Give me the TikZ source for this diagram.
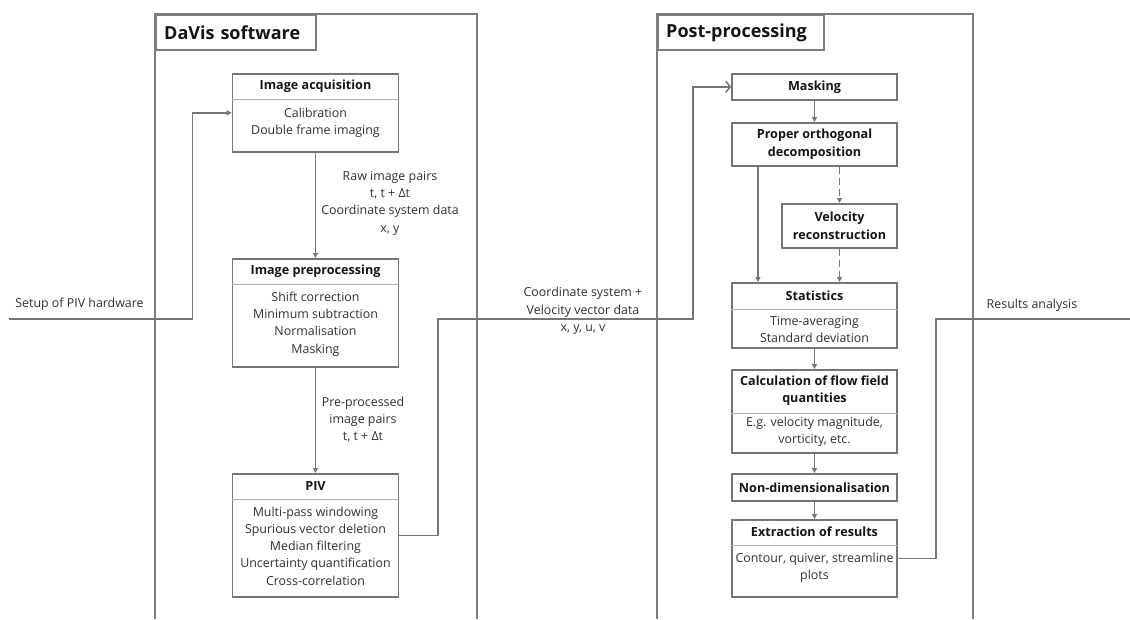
\documentclass[tikz,border=0pt]{standalone}
\usepackage{fontspec}
\setmainfont{Open Sans}
\usepackage{tikz}
\usetikzlibrary{positioning,calc,arrows.meta}
\definecolor{frameGray}{RGB}{125,125,125}
\definecolor{lineGray}{RGB}{118,118,118}
\definecolor{splitGray}{RGB}{175,175,175}
\definecolor{headText}{RGB}{20,20,20}
\definecolor{bodyText}{RGB}{48,48,48}
\tikzset{
    frame/.style={draw=frameGray, line width=2.4pt},
    titlebox/.style={
        frame,
        anchor=north west,
        minimum height=35pt,
        inner xsep=8pt,
        inner ysep=0pt,
        align=left,
        font=\fontsize{18}{20}\selectfont\bfseries,
        text=headText
    },
    stepbox/.style={
        draw=lineGray,
        line width=1.6pt,
        anchor=north,
        inner sep=0pt,
        minimum width=166pt,
        align=center
    },
    headfont/.style={font=\fontsize{12.6}{17.3}\selectfont\bfseries, text=headText},
    bodyfont/.style={font=\fontsize{12.4}{17.3}\selectfont, text=bodyText},
    headtext/.style={headfont, align=center, inner sep=0pt},
    bodytext/.style={bodyfont, align=center, inner sep=0pt},
    split/.style={draw=splitGray, line width=1pt},
    flow/.style={draw=lineGray, line width=1.5pt, -{Triangle[length=5pt,width=5pt]}},
    dashflow/.style={flow, dash pattern=on 7pt off 4pt},
    feed/.style={draw=lineGray, line width=1.5pt, -{Straight Barb[length=4.5pt,width=11pt]}},
    plain/.style={draw=lineGray, line width=1.5pt}
}

\begin{document}
\begin{tikzpicture}[x=1pt, y=-1pt]
    \useasboundingbox (0,0) rectangle (1130,619);

    % two software frames
    \draw[frame] (155,619) |- (477,14) -- (477,619);
    \node[titlebox, text width=144pt] (davisTitle) at (155,14) {DaVis software};
    \draw[frame] (657,619) |- (973,14) -- (973,619);
    \node[titlebox, text width=150pt] (postTitle) at (657,14) {Post-processing};

    % DaVis steps
    \node[stepbox, minimum height=78pt] (acq) at (315.5,73) {};
    \node[headtext] (acqHead) at (315.5,86) {Image acquisition};
    \draw[split] (acq.west |- 0,99) -- (acq.east |- 0,99);
    \node[bodytext] (acqBody) at (315.5,123) {Calibration\\Double frame imaging};

    \node[stepbox, minimum height=108pt] (pre) at (315.5,258) {};
    \node[headtext] (preHead) at (315.5,271) {Image preprocessing};
    \draw[split] (pre.west |- 0,284) -- (pre.east |- 0,284);
    \node[bodytext] (preBody) at (315.5,324) {Shift correction\\Minimum subtraction\\Normalisation\\Masking};

    \node[stepbox, minimum height=123pt] (piv) at (315.5,473) {};
    \node[headtext] (pivHead) at (315.5,486) {PIV};
    \draw[split] (piv.west |- 0,499) -- (piv.east |- 0,499);
    \node[bodytext] (pivBody) at (315.5,546) {Multi-pass windowing\\Spurious vector deletion\\Median filtering\\Uncertainty quantification\\Cross-correlation};

    % post-processing steps
    \node[stepbox, headfont, minimum width=165pt, minimum height=26pt] (mask) at (814.5,73) {Masking};
    \node[stepbox, headfont, minimum width=165pt, minimum height=43pt] (pod) at (814.5,122) {Proper orthogonal\\decomposition};
    \node[stepbox, headfont, minimum width=115pt, minimum height=44pt] (vrec) at (839.5,203) {Velocity\\reconstruction};

    \node[stepbox, minimum width=165pt, minimum height=65pt] (stats) at (814.5,282) {};
    \node[headtext] (statsHead) at (814.5,295.5) {Statistics};
    \draw[split] (stats.west |- 0,309) -- (stats.east |- 0,309);
    \node[bodytext] (statsBody) at (814.5,329.5) {Time-averaging\\Standard deviation};

    \node[stepbox, minimum width=165pt, minimum height=83pt] (calc) at (814.5,369) {};
    \node[headtext] (calcHead) at (814.5,390.5) {Calculation of flow field\\quantities};
    \draw[split] (calc.west |- 0,413) -- (calc.east |- 0,413);
    \node[bodytext] (calcBody) at (814.5,431.5) {E.g. velocity magnitude,\\vorticity, etc.};

    \node[stepbox, headfont, minimum width=165pt, minimum height=27pt] (nondim) at (814.5,473) {Non-dimensionalisation};

    \node[stepbox, minimum width=165pt, minimum height=77pt] (extr) at (814.5,519) {};
    \node[headtext] (extrHead) at (814.5,532) {Extraction of results};
    \draw[split] (extr.west |- 0,545) -- (extr.east |- 0,545);
    \node[bodytext] (extrBody) at (814.5,567.5) {Contour, quiver, streamline\\plots};

    % data passed along the arrows
    \node[bodytext] (setupLabel) at (79.5,304) {Setup of PIV hardware};
    \node[bodytext] (rawLabel) at (390,203) {Raw image pairs\\t, t + Δt\\Coordinate system data\\x, y};
    \node[bodytext] (ppLabel) at (363,419.5) {Pre-processed\\image pairs\\t, t + Δt};
    \node[bodytext] (vecLabel) at (583,311) {Coordinate system +\\Velocity vector data\\x, y, u, v};
    \node[bodytext] (resLabel) at (1032,305) {Results analysis};

    \coordinate (hwIn) at (9,319);
    \coordinate (resOut) at (1130,319);

    \draw[flow] (hwIn) -| ([xshift=-39pt]acq.west) -- (acq.west);
    \draw[flow] (acq) -- (pre);
    \draw[flow] (pre) -- (piv);
    \draw[feed] (piv.east) -| (438,319) -| ([xshift=-38pt]mask.west) -- (mask.west);

    \draw[flow] (mask) -- (pod);
    \draw[flow] ([xshift=-56.5pt]pod.south) -- ([xshift=-56.5pt]pod.south |- stats.north);
    \draw[dashflow] (vrec.north |- pod.south) -- (vrec.north);
    \draw[dashflow] (vrec) -- (vrec.south |- stats.north);
    \draw[flow] (stats) -- (calc);
    \draw[flow] (calc) -- (nondim);
    \draw[flow] (nondim) -- (extr);
    \draw[plain] (extr.east) -| (936,319) -- (resOut);
\end{tikzpicture}
\end{document}
